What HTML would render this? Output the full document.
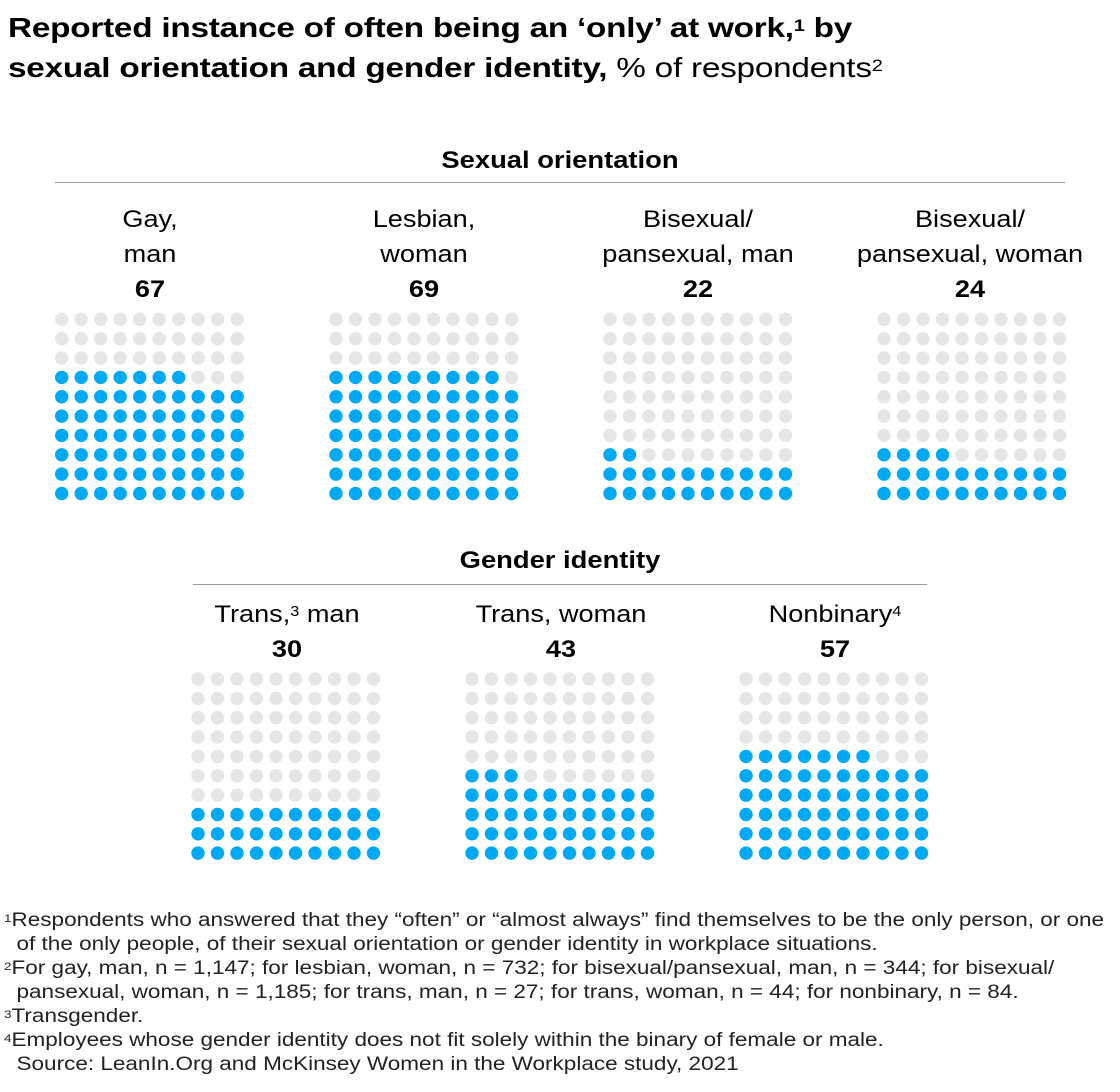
<!DOCTYPE html>
<html><head><meta charset="utf-8"><style>
body{margin:0;width:1120px;height:1092px;background:#fff;font-family:"Liberation Sans",sans-serif;color:#000;position:relative;overflow:hidden}
.a{position:absolute;white-space:nowrap}
.t{left:8px;top:8px;font-size:28px;line-height:40px;font-weight:bold;letter-spacing:-0.2px;transform:scaleX(1.19);transform-origin:0 0}
.t span{font-weight:normal}
sup{font-size:60%;vertical-align:top;position:relative;top:-2px}
.h{font-size:24px;font-weight:bold;text-align:center;transform:scaleX(1.14)}
.l{font-size:24px;line-height:35px;text-align:center;width:274px;transform:scaleX(1.13)}
.n{font-weight:bold}
.f{left:4px;font-size:19px;line-height:24px;color:#222;transform:scaleX(1.185);transform-origin:0 0}
</style></head><body>
<div class="a t">Reported instance of often being an ‘only’ at work,<sup>1</sup> by<br>sexual orientation and gender identity, <span>% of respondents<sup>2</sup></span></div>
<div class="a h" style="left:55px;width:1010px;top:147px">Sexual orientation</div>
<div class="a" style="left:55px;width:1010px;top:182px;border-top:1px solid #999"></div>
<div class="a h" style="left:193px;width:734px;top:547px">Gender identity</div>
<div class="a" style="left:193px;width:734px;top:584px;border-top:1px solid #999"></div>
<div class="a l" style="left:13px;top:202px">Gay,<br>man<br><span class="n">67</span></div>
<div class="a l" style="left:287px;top:202px">Lesbian,<br>woman<br><span class="n">69</span></div>
<div class="a l" style="left:561px;top:202px">Bisexual/<br>pansexual, man<br><span class="n">22</span></div>
<div class="a l" style="left:833px;top:202px">Bisexual/<br>pansexual, woman<br><span class="n">24</span></div>
<div class="a l" style="left:150px;top:597px">Trans,<sup>3</sup> man<br><span class="n">30</span></div>
<div class="a l" style="left:424px;top:597px">Trans, woman<br><span class="n">43</span></div>
<div class="a l" style="left:698px;top:597px">Nonbinary<sup>4</sup><br><span class="n">57</span></div>
<svg class="a" style="left:0;top:0" width="1120" height="1092" id="s"></svg>
<div class="a f" style="top:909px"><sup>1</sup>Respondents who answered that they “often” or “almost always” find themselves to be the only person, or one<br>&nbsp;&nbsp;of the only people, of their sexual orientation or gender identity in workplace situations.<br><sup>2</sup>For gay, man, n = 1,147; for lesbian, woman, n = 732; for bisexual/pansexual, man, n = 344; for bisexual/<br>&nbsp;&nbsp;pansexual, woman, n = 1,185; for trans, man, n = 27; for trans, woman, n = 44; for nonbinary, n = 84.<br><sup>3</sup>Transgender.<br><sup>4</sup>Employees whose gender identity does not fit solely within the binary of female or male.<br>&nbsp;&nbsp;Source: LeanIn.Org and McKinsey Women in the Workplace study, 2021</div>
<script>
var g=[[61.7,319.3,67],[336,319.3,69],[610,319.3,22],[884,319.3,24],[198,679,30],[472,679,43],[746,679,57]],h='';
g.forEach(function(q){for(var r=0;r<10;r++)for(var c=0;c<10;c++){var idx=(9-r)*10+c;var col=idx<q[2]?'#00a9f4':'#e6e6e6';h+='<circle cx="'+(q[0]+c*19.5).toFixed(1)+'" cy="'+(q[1]+r*19.35).toFixed(1)+'" r="6.7" fill="'+col+'"/>';}});
document.getElementById('s').innerHTML=h;
</script>
</body></html>
